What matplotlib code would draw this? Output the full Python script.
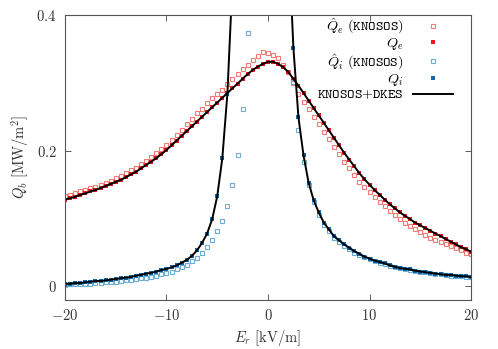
import numpy as np
import matplotlib
matplotlib.use("Agg")
import matplotlib.pyplot as plt

plt.rcParams['mathtext.fontset'] = 'cm'
plt.rcParams['font.family'] = 'serif'
plt.rcParams['font.size'] = 10.5

# radial electric field grid (kV/m), step 0.5
Er = np.arange(-20, 20.01, 0.5)
nan = np.nan

# Q_e (KNOSOS+DKES)
Qe = [0.128, 0.130, 0.132, 0.135, 0.137, 0.140, 0.142, 0.145, 0.148, 0.151,
      0.154, 0.157, 0.161, 0.165, 0.169, 0.174, 0.179, 0.184, 0.189, 0.195,
      0.201, 0.208, 0.215, 0.222, 0.229, 0.236, 0.243, 0.250, 0.257, 0.264,
      0.271, 0.278, 0.285, 0.292, 0.299, 0.306, 0.313, 0.319, 0.324, 0.328,
      0.331, 0.331, 0.328, 0.323, 0.316, 0.306, 0.296, 0.285, 0.274, 0.263,
      0.252, 0.241, 0.230, 0.219, 0.208, 0.197, 0.187, 0.177, 0.167, 0.158,
      0.150, 0.142, 0.135, 0.128, 0.121, 0.115, 0.109, 0.104, 0.099, 0.094,
      0.090, 0.086, 0.082, 0.078, 0.074, 0.070, 0.066, 0.062, 0.058, 0.055,
      0.051]

# Q_e hat (KNOSOS)
Qe_hat = [0.133, 0.135, 0.137, 0.140, 0.142, 0.145, 0.147, 0.150, 0.153, 0.156,
          0.160, 0.163, 0.167, 0.171, 0.175, 0.180, 0.185, 0.191, 0.197, 0.203,
          0.209, 0.216, 0.223, 0.231, 0.239, 0.247, 0.255, 0.262, 0.270, 0.277,
          0.283, 0.290, 0.298, 0.305, 0.313, 0.320, 0.327, 0.334, 0.340, 0.345,
          0.344, 0.341, 0.336, 0.327, 0.316, 0.300, 0.284, 0.272, 0.261, 0.250,
          0.239, 0.228, 0.217, 0.206, 0.195, 0.184, 0.174, 0.164, 0.154, 0.146,
          0.139, 0.132, 0.125, 0.118, 0.111, 0.105, 0.099, 0.094, 0.089, 0.084,
          0.080, 0.076, 0.072, 0.068, 0.066, 0.062, 0.059, 0.056, 0.053, 0.050,
          0.048]

# Q_i (KNOSOS+DKES), diverges near Er ~ -3.6 and ~ 2.4
Qi = [0.004, 0.004, 0.005, 0.005, 0.006, 0.007, 0.008, 0.008, 0.009, 0.010,
      0.011, 0.012, 0.013, 0.014, 0.016, 0.017, 0.019, 0.020, 0.022, 0.024,
      0.026, 0.028, 0.031, 0.035, 0.039, 0.045, 0.053, 0.064, 0.078, 0.099,
      0.133, 0.189, 0.284, 0.450, nan, nan, nan, nan, nan, nan,
      nan, nan, nan, nan, 0.520, 0.352, 0.249, 0.193, 0.153, 0.127,
      0.109, 0.094, 0.084, 0.074, 0.068, 0.062, 0.057, 0.052, 0.048, 0.044,
      0.041, 0.038, 0.036, 0.034, 0.031, 0.029, 0.027, 0.026, 0.025, 0.023,
      0.022, 0.021, 0.020, 0.019, 0.018, 0.017, 0.017, 0.016, 0.015, 0.015,
      0.014]

# Q_i hat (KNOSOS)
Qi_hat = [0.002, 0.003, 0.003, 0.003, 0.004, 0.004, 0.005, 0.005, 0.006, 0.006,
          0.007, 0.008, 0.009, 0.010, 0.011, 0.012, 0.013, 0.014, 0.016, 0.018,
          0.020, 0.022, 0.025, 0.028, 0.032, 0.037, 0.042, 0.049, 0.058, 0.068,
          0.081, 0.096, 0.118, 0.149, 0.193, 0.261, 0.373, nan, nan, nan,
          nan, nan, nan, nan, nan, 0.302, 0.230, 0.183, 0.150, 0.125,
          0.105, 0.091, 0.081, 0.072, 0.066, 0.060, 0.055, 0.050, 0.046, 0.043,
          0.040, 0.037, 0.035, 0.033, 0.030, 0.028, 0.027, 0.025, 0.024, 0.023,
          0.022, 0.021, 0.020, 0.019, 0.018, 0.017, 0.016, 0.016, 0.015, 0.014,
          0.014]

xticks = [-20, -10, 0, 10, 20]
yticks = [0, 0.2, 0.4]

red_open = '#f07b74'
red_full = '#e41a1c'
blue_open = '#6aaed6'
blue_full = '#1368aa'

fig = plt.figure(figsize=(4.98, 3.49), dpi=100)
ax = fig.add_axes([0.1305, 0.1404, 0.8153, 0.8166])

tt = r'\ (\mathtt{KNOSOS})$'
ax.plot(Er, Qe_hat, 's', ms=3.4, mfc='none', mec=red_open, mew=0.8, label=r'$\hat{Q}_e' + tt)
ax.plot(Er, Qe, 's', ms=2.9, color=red_full, mew=0, label=r'$Q_e$')
ax.plot(Er, Qi_hat, 's', ms=3.4, mfc='none', mec=blue_open, mew=0.8, label=r'$\hat{Q}_i' + tt)
ax.plot(Er, Qi, 's', ms=2.9, color=blue_full, mew=0, label=r'$Q_i$')
ax.plot(Er, Qe, '-', color='black', lw=1.4, label=r'$\mathtt{KNOSOS{+}DKES}$')
ax.plot(Er, Qi, '-', color='black', lw=1.4)

ax.set_xlim(-20, 20)
ax.set_ylim(-0.02, 0.4)
ax.set_xticks(xticks)
ax.set_xticklabels(['$%g$' % v for v in xticks])
ax.set_yticks(yticks)
ax.set_yticklabels(['$%g$' % v for v in yticks])
ax.tick_params(direction='in', top=True, right=True, length=4, width=0.6,
               colors='#444444', labelcolor='#333333', pad=6)
for s in ax.spines.values():
    s.set_color('#555555')
    s.set_linewidth(0.8)

ax.set_xlabel(r'$E_r\ [\mathrm{kV/m}]$', color='#333333', labelpad=3)
ax.set_ylabel(r'$Q_b\ [\mathrm{MW/m}^2]$', color='#333333', labelpad=4)

ax.legend(loc='upper right', bbox_to_anchor=(0.955, 0.995), frameon=False,
          markerfirst=False, borderpad=0, borderaxespad=0, handlelength=2.8,
          handletextpad=0.7, labelspacing=0.0, numpoints=1, fontsize=10.2)

fig.savefig('out.png', dpi=100)
